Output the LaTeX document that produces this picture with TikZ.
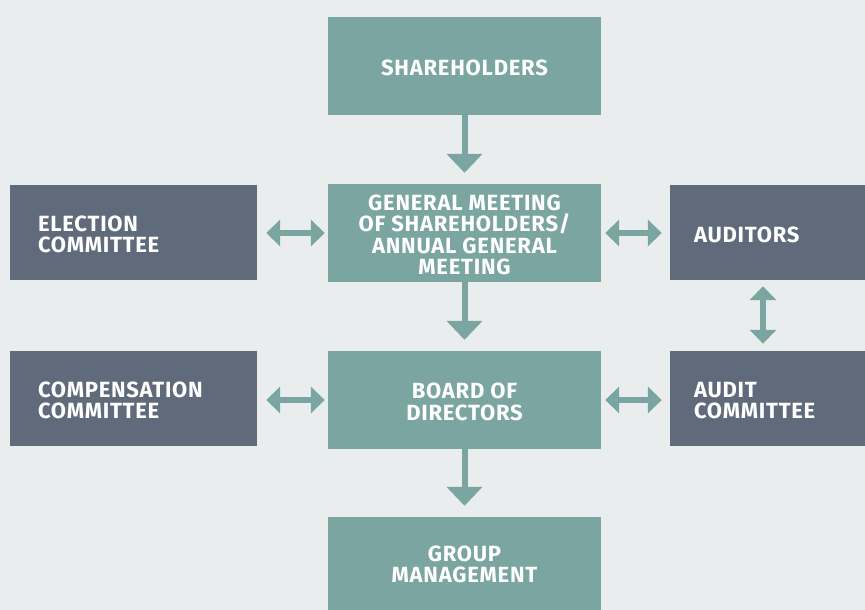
\documentclass[tikz,border=0pt]{standalone}
\usepackage{fontspec}
\setmainfont{Fira Sans}
\newfontfamily\labelfont{Fira Sans}[LetterSpace=3.5]
\usetikzlibrary{arrows.meta}
\definecolor{bgc}{HTML}{E9EDEE}
\definecolor{teal}{HTML}{7AA5A0}
\definecolor{slate}{HTML}{5F6B7A}
\tikzset{
  tealbox/.style={fill=teal, draw=none, inner sep=0pt, minimum width=273pt, minimum height=98pt},
  slatebox/.style={fill=slate, draw=none, inner sep=0pt, minimum height=95pt},
  boxtext/.style={text=white, font=\labelfont\bfseries\fontsize{22}{21.3}\selectfont, inner sep=0pt},
  ctext/.style={boxtext, align=center},
  ltext/.style={boxtext, align=left, anchor=west},
  downarrow/.style={draw=teal, line width=6pt, -{Triangle[width=35pt,length=19pt]}},
  dblh/.style={draw=teal, line width=6pt, {Triangle[width=26pt,length=14pt]}-{Triangle[width=26pt,length=14pt]}},
}
\begin{document}
\begin{tikzpicture}[x=1pt,y=-1pt]
\fill[bgc] (0,0) rectangle (865,610);
\useasboundingbox (0,0) rectangle (865,610);
\node[tealbox] (SH) at (464.5,66) {};
\node[tealbox] (GM) at (464.5,233) {};
\node[tealbox] (BD) at (464.5,400) {};
\node[tealbox, minimum height=93pt] (GR) at (464.5,563.5) {};
\node[slatebox, minimum width=247pt] (EL) at (133.5,232.5) {};
\node[slatebox, minimum width=247pt] (CO) at (133.5,398.5) {};
\node[slatebox, minimum width=195pt] (AU) at (767.5,232.5) {};
\node[slatebox, minimum width=195pt] (AC) at (767.5,398.5) {};
\node[ctext] (SHt) at ([yshift=-2pt]SH.center) {SHAREHOLDERS};
\node[ctext] (GMt) at ([yshift=-2pt]GM.center) {GENERAL MEETING\\OF SHAREHOLDERS/\\ANNUAL GENERAL\\MEETING};
\node[ctext] (BDt) at ([yshift=-2pt]BD.center) {BOARD OF\\DIRECTORS};
\node[ctext] (GRt) at ([yshift=-1pt]GR.center) {GROUP\\MANAGEMENT};
\node[ltext] (ELt) at ([xshift=28pt,yshift=-2pt]EL.west) {ELECTION\\COMMITTEE};
\node[ltext] (COt) at ([xshift=28pt,yshift=-2pt]CO.west) {COMPENSATION\\COMMITTEE};
\node[ltext] (AUt) at ([xshift=24pt,yshift=-2pt]AU.west) {AUDITORS};
\node[ltext] (ACt) at ([xshift=24pt,yshift=-2pt]AC.west) {AUDIT\\COMMITTEE};
\draw[downarrow, shorten >=11pt] (SH) -- (GM);
\draw[downarrow, shorten >=11pt] (GM) -- (BD);
\draw[downarrow, shorten >=11pt] (BD) -- (GR);
\draw[dblh, shorten <=9pt, shorten >=3pt] (EL.east |- GM.west) -- (GM.west);
\draw[dblh, shorten <=9pt, shorten >=3pt] (CO.east |- BD.west) -- (BD.west);
\draw[dblh, shorten <=4pt, shorten >=8pt] (GM.east) -- (AU.west |- GM.east);
\draw[dblh, shorten <=4pt, shorten >=8pt] (BD.east) -- (AC.west |- BD.east);
\draw[dblh, shorten <=6pt, shorten >=7pt] ([xshift=-4.5pt]AU.south) -- ([xshift=-4.5pt]AC.north);
\end{tikzpicture}
\end{document}
